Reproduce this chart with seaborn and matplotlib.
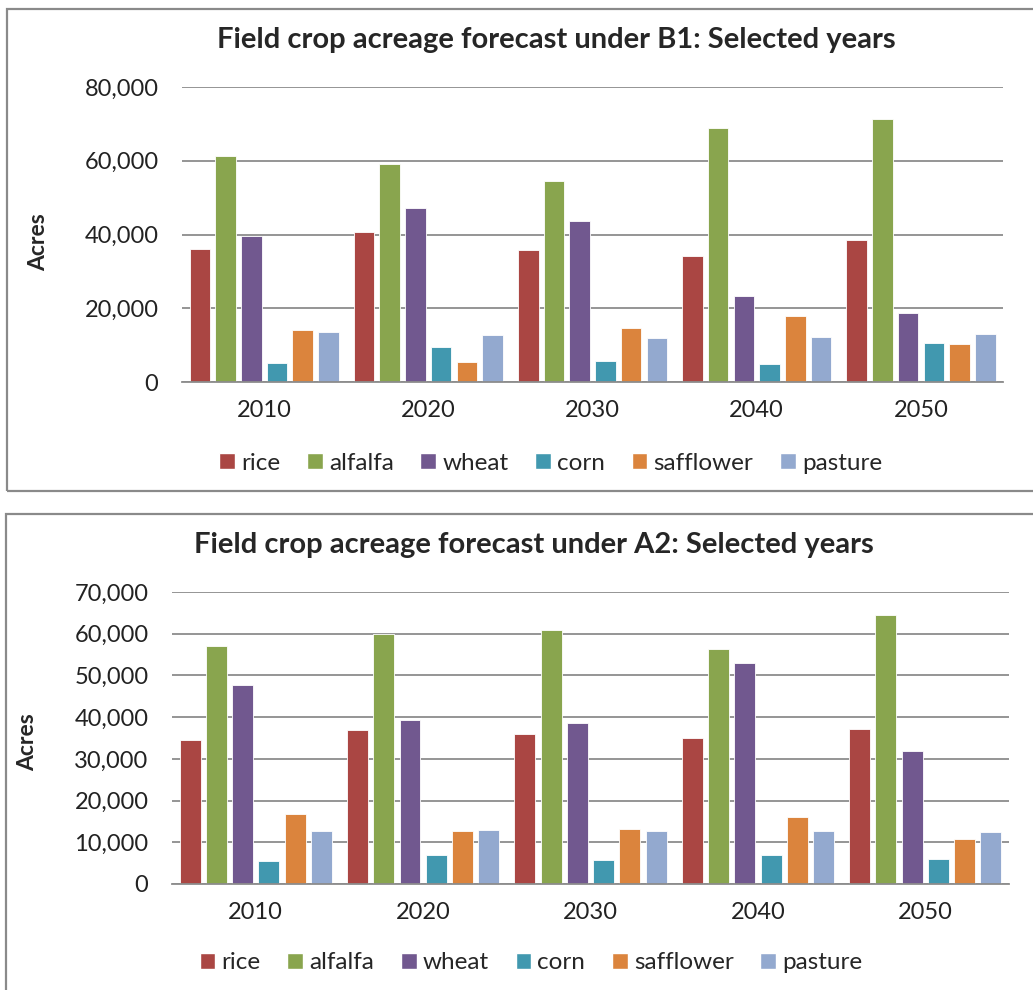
import matplotlib
matplotlib.use("Agg")
import matplotlib.pyplot as plt
import matplotlib.ticker as mticker
from matplotlib.patches import Rectangle, Patch
import seaborn as sns
import pandas as pd

# 데이터: 연도, 작물, 색상
years = ["2010", "2020", "2030", "2040", "2050"]
crops = ["rice", "alfalfa", "wheat", "corn", "safflower", "pasture"]
colors = ["#AA4643", "#89A54E", "#71588F", "#4198AF", "#DB843D", "#93A9CF"]

# B1 시나리오 (acres)
b1_rice = [36100, 40600, 35700, 34300, 38600]
b1_alfalfa = [61200, 59200, 54500, 68800, 71400]
b1_wheat = [39600, 47200, 43700, 23200, 18600]
b1_corn = [5100, 9500, 5700, 5000, 10600]
b1_safflower = [14100, 5400, 14700, 18000, 10300]
b1_pasture = [13700, 12700, 12000, 12300, 13100]

# A2 시나리오 (acres)
a2_rice = [34600, 36800, 36000, 35100, 37200]
a2_alfalfa = [57000, 59900, 60900, 56300, 64600]
a2_wheat = [47800, 39200, 38500, 53000, 31800]
a2_corn = [5400, 6900, 5700, 6900, 6000]
a2_safflower = [16700, 12700, 13300, 16100, 10900]
a2_pasture = [12700, 13000, 12700, 12700, 12400]


def to_long(series):
    rows = []
    for crop, vals in zip(crops, series):
        for yr, v in zip(years, vals):
            rows.append({"year": yr, "crop": crop, "acres": v})
    return pd.DataFrame(rows)


b1 = to_long([b1_rice, b1_alfalfa, b1_wheat, b1_corn, b1_safflower, b1_pasture])
a2 = to_long([a2_rice, a2_alfalfa, a2_wheat, a2_corn, a2_safflower, a2_pasture])

sns.set_theme(style="white")
plt.rcParams["font.family"] = ["Lato", "DejaVu Sans"]

fig = plt.figure(figsize=(10.33, 9.9), dpi=100)

grid_c = "#8c8c8c"
fs = 17


def draw(ax, df, ymax, step):
    sns.barplot(data=df, x="year", y="acres", hue="crop", hue_order=crops,
                order=years, palette=colors, saturation=1, width=0.94, gap=0.2,
                edgecolor="white", linewidth=0.6, legend=False, ax=ax)
    ax.set_xlim(-0.5, 4.5)
    ax.set_ylim(0, ymax)
    ax.yaxis.set_major_locator(mticker.MultipleLocator(step))
    ax.yaxis.set_major_formatter(mticker.FuncFormatter(lambda v, p: f"{int(v):,}"))
    ax.set_axisbelow(True)
    ax.grid(axis="y", color=grid_c, linewidth=1.3)
    for s in ["top", "right", "left"]:
        ax.spines[s].set_visible(False)
    ax.spines["bottom"].set_color(grid_c)
    ax.spines["bottom"].set_linewidth(1.3)
    ax.tick_params(axis="y", length=0, pad=17, labelsize=fs, labelcolor="#222222")
    ax.tick_params(axis="x", which="major", length=0, pad=13, labelsize=fs,
                   labelcolor="#222222")
    ax.set_xticks([x + 0.5 for x in range(-1, 5)], minor=True)
    ax.tick_params(axis="x", which="minor", length=11, direction="inout",
                   color=grid_c, width=1.3)
    ax.set_xlabel("")
    ax.set_ylabel("")


ax1 = fig.add_axes([0.1762, 0.6141, 0.7948, 0.298])
draw(ax1, b1, 80000, 20000)
ax2 = fig.add_axes([0.1665, 0.1071, 0.8103, 0.2949])
draw(ax2, a2, 70000, 10000)

# 테두리 박스
fig.patches.append(Rectangle((7 / 1033, 1 - 491 / 990), 1.2, (491 - 9) / 990,
                             transform=fig.transFigure, fill=False,
                             edgecolor="#8a8a8a", linewidth=1.6))
fig.patches.append(Rectangle((6 / 1033, -0.2), 1.2, 0.2 + 1 - 514 / 990,
                             transform=fig.transFigure, fill=False,
                             edgecolor="#8a8a8a", linewidth=1.6))

fig.text(0.539, 0.9596, "Field crop acreage forecast under B1: Selected years",
         ha="center", va="center", fontsize=21, fontweight="bold")
fig.text(0.517, 0.4495, "Field crop acreage forecast under A2: Selected years",
         ha="center", va="center", fontsize=21, fontweight="bold")
fig.text(0.037, 0.7556, "Acres", rotation=90, ha="center", va="center",
         fontsize=16.5, fontweight="bold")
fig.text(0.027, 0.2505, "Acres", rotation=90, ha="center", va="center",
         fontsize=16.5, fontweight="bold")

handles = [Patch(facecolor=c, label=n) for c, n in zip(colors, crops)]
for cy, cx in [(0.532, 0.533), (0.0276, 0.514)]:
    fig.legend(handles=handles, loc="center", bbox_to_anchor=(cx, cy), ncol=6,
               frameon=False, fontsize=17.5, handlelength=0.65, handleheight=0.65,
               handletextpad=0.25, columnspacing=1.1)

fig.savefig("out.png", dpi=100)
